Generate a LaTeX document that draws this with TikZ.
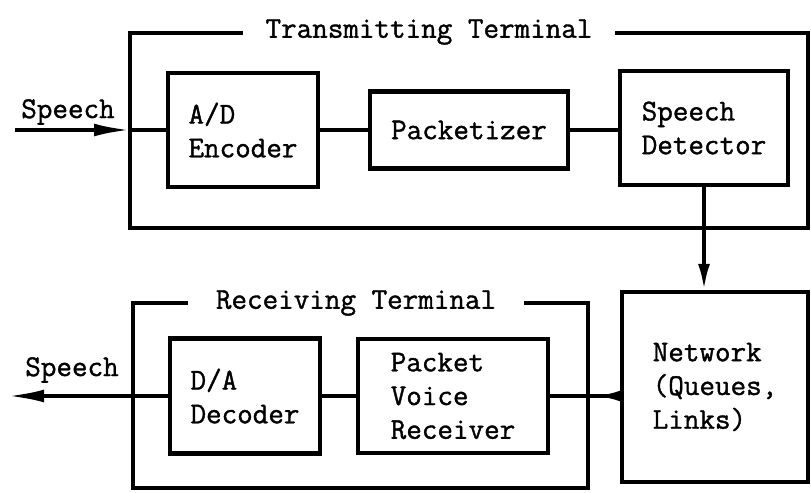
\documentclass[tikz,border=0pt]{standalone}
\usepackage{fontspec}
\setmonofont{Latin Modern Mono}[FakeBold=1.2]
\usetikzlibrary{arrows.meta, positioning}
\tikzset{
  block/.style={draw, line width=3pt, align=left, font=\ttfamily\fontsize{21.5}{24}\selectfont},
  frame/.style={line width=2.7pt},
  lbl/.style={font=\ttfamily\fontsize{21.5}{24}\selectfont},
  sig/.style={line width=2.6pt},
  tip/.style={-{Latex[length=0.65cm, width=0.3cm]}},
  longtip/.style={-{Latex[length=0.9cm, width=0.32cm]}}
}

\begin{document}
\begin{tikzpicture}
\useasboundingbox (0,0) rectangle (20.275,12.3);

% transmitting terminal
\draw[frame] (3.25,6.6) rectangle (20.2,11.475);
\node[lbl, fill=white, inner xsep=16pt, inner ysep=2pt] (ttl) at (10.725,11.5) {Transmitting Terminal};
\node[block, minimum width=3.75cm, minimum height=2.85cm] (enc) at (6.075,9.05) {A/D\\Encoder};
\node[block, minimum width=4.95cm, minimum height=1.925cm] (pack) at (11.725,9.05) {Packetizer};
\node[block, minimum width=4.2cm, minimum height=2.85cm] (det) at (17.6,9.1) {Speech\\Detector};

% network
\node[block, minimum width=4.65cm, minimum height=4.75cm] (net) at (17.875,2.625) {Network\\(Queues,\\Links)};

% receiving terminal
\draw[frame] (3.325,0.1) rectangle (14.7,4.725);
\node[lbl, fill=white, inner xsep=20pt, inner ysep=2pt] (rtl) at (8.9,4.725) {Receiving Terminal};
\node[block, minimum width=3.75cm, minimum height=2.875cm] (dec) at (6.125,2.4) {D/A\\Decoder};
\node[block, minimum width=4.75cm, minimum height=2.85cm] (pvr) at (11.325,2.4) {Packet\\Voice\\Receiver};

% signal path
\coordinate (src) at (0.375,9.05);
\coordinate (tin) at (3.25,9.05);
\node[lbl] (sin) at (1.7,9.5) {Speech};
\draw[sig, longtip] (src) -- (tin);
\draw[sig] (tin) -- (enc.west);
\draw[sig] (enc) -- (pack);
\draw[sig] (pack.east) -- (pack.east -| det.west);
\draw[sig, tip] (det.south) -- (det.south |- net.north);
\coordinate (nout) at (net.west |- pvr.east);
\draw[sig] (nout) -- (pvr.east);
\draw[sig, tip] (nout) -- ++(-0.6,0);
\draw[sig] (pvr) -- (dec);
\coordinate (snk) at (0.2,2.4);
\draw[sig, longtip] (dec.west) -- (snk);
\node[lbl] (sout) at (1.8,3.05) {Speech};
\end{tikzpicture}
\end{document}
